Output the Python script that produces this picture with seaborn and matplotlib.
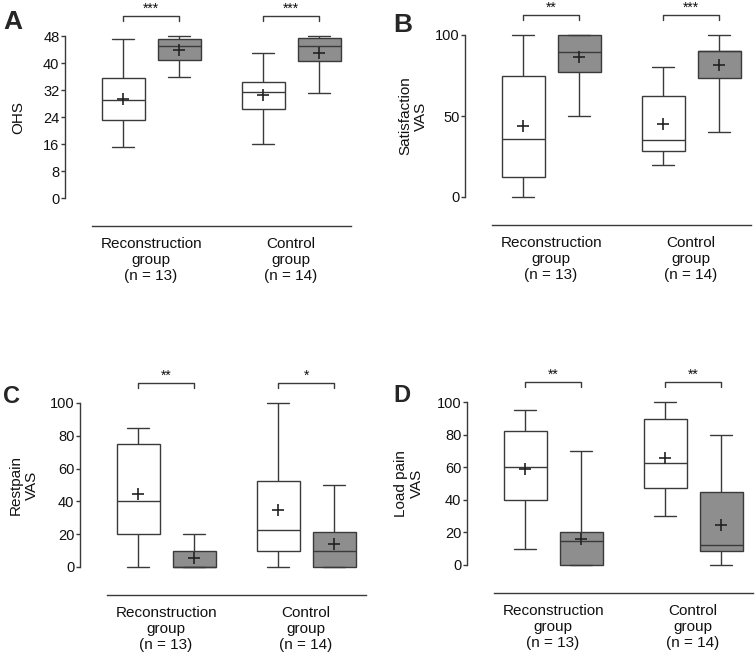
import pandas as pd
import matplotlib
matplotlib.use("Agg")
import matplotlib.pyplot as plt
import seaborn as sns

sns.set_theme(style="ticks")
plt.rcParams["font.family"] = ["Liberation Sans", "DejaVu Sans"]

W, H = 755, 660

groups = ["Reconstruction\ngroup\n(n = 13)", "Control\ngroup\n(n = 14)"]
times = ["Pre", "Post"]

# five-number summaries: min, Q1, median, Q3, max
ohs_recon_pre = [15, 23, 29, 35.5, 47]
ohs_recon_post = [36, 41, 45, 47, 48]
ohs_ctrl_pre = [16, 26.5, 31.5, 34.5, 43]
ohs_ctrl_post = [31, 40.7, 45, 47.3, 48]
ohs_means = [29.2, 44, 30.4, 43]

sat_recon_pre = [0, 12.3, 35.5, 74.7, 100]
sat_recon_post = [50, 77.4, 89.7, 100, 100]
sat_ctrl_pre = [20, 28.5, 35, 62.2, 80]
sat_ctrl_post = [40, 73.3, 90, 90, 100]
sat_means = [43.9, 86.7, 44.8, 81.3]

rest_recon_pre = [0, 20, 40, 75, 85]
rest_recon_post = [0, 0, 0, 10, 20]
rest_ctrl_pre = [0, 10, 22.4, 52.4, 100]
rest_ctrl_post = [0, 0, 10, 21.2, 50]
rest_means = [44.7, 5.3, 34.5, 14.3]

load_recon_pre = [10, 40, 60, 82.5, 95]
load_recon_post = [0, 0, 15, 20, 70]
load_ctrl_pre = [30, 47.5, 62.5, 89.8, 100]
load_ctrl_post = [0, 8.6, 12, 44.8, 80]
load_means = [58.7, 15.9, 65.4, 24.8]

ohs_stars = ["***", "***"]
sat_stars = ["**", "***"]
rest_stars = ["**", "*"]
load_stars = ["**", "**"]

line_col = "#3a3a3a"
box_pal = {"Pre": "white", "Post": "#8e8e8e"}


def long_df(boxes):
    rows = []
    keys = [(g, t) for g in groups for t in times]
    for (g, t), vals in zip(keys, boxes):
        for v in vals:
            rows.append({"group": g, "time": t, "value": v})
    return pd.DataFrame(rows)


def mean_df(means):
    keys = [(g, t) for g in groups for t in times]
    return pd.DataFrame({"group": [k[0] for k in keys],
                         "time": [k[1] for k in keys],
                         "mean": means})


def make_ax(fig, left_px, y0_px, ytop_px, ymax):
    px_per = (y0_px - ytop_px) / ymax
    pad = 0.01 * ymax
    bottom_px = y0_px + pad * px_per
    top_px = ytop_px - pad * px_per
    width_px = (1.5 + 0.615) * 140
    ax = fig.add_axes([left_px / W, 1 - bottom_px / H, width_px / W, (bottom_px - top_px) / H])
    return ax, px_per


def draw(ax, px_per, boxes, means, ylabel, yticks, ymax, stars, label_dx):
    sns.boxplot(data=long_df(boxes), x="group", y="value", hue="time",
                order=groups, hue_order=times, palette=box_pal, saturation=1,
                whis=(0, 100), width=0.8, gap=0.23, linecolor=line_col,
                linewidth=1.0, fliersize=0, legend=False, ax=ax)
    sns.stripplot(data=mean_df(means), x="group", y="mean", hue="time",
                  order=groups, hue_order=times, dodge=True, jitter=False,
                  marker="+", size=9, linewidth=1.2, palette=["#222222", "#222222"],
                  legend=False, ax=ax, zorder=5)

    ax.set_xlim(-0.615, 1.5)
    ax.set_ylim(-0.01 * ymax, 1.01 * ymax)
    ax.set_yticks(yticks)
    sns.despine(ax=ax)
    for s in ["left", "bottom"]:
        ax.spines[s].set_color(line_col)
        ax.spines[s].set_linewidth(1.0)
    ax.spines["left"].set_bounds(0, ymax)
    ax.spines["bottom"].set_position(("outward", 18.7))
    ax.spines["bottom"].set_bounds(-0.425, 1.43)
    ax.tick_params(axis="x", length=0, pad=8, labelsize=11, colors="#111111")
    ax.tick_params(axis="y", length=3, width=1, labelsize=10.5, pad=1,
                   color=line_col, labelcolor="#111111")
    ax.set_xlabel("")
    ax.set_ylabel(ylabel, fontsize=11, va="center", ha="center", color="#111111")
    ax.yaxis.set_label_coords(label_dx / ax.bbox.width, 0.5)

    # significance brackets
    br_y = ymax + 20 / px_per
    tk_y = ymax + 15 / px_per
    for i, s in enumerate(stars):
        x0, x1 = i - 0.2, i + 0.2
        ax.plot([x0, x0, x1, x1], [tk_y, br_y, br_y, tk_y], color=line_col,
                lw=1.0, clip_on=False)
        ax.text(i, br_y, s, ha="center", va="bottom", fontsize=10, color="#111111")


fig = plt.figure(figsize=(W / 100, H / 100), dpi=100)

axA, pA = make_ax(fig, 65, 198, 36, 48)
axB, pB = make_ax(fig, 465, 197, 35, 100)
axC, pC = make_ax(fig, 80, 567, 403, 100)
axD, pD = make_ax(fig, 467, 565, 402, 100)

draw(axA, pA, [ohs_recon_pre, ohs_recon_post, ohs_ctrl_pre, ohs_ctrl_post], ohs_means,
     "OHS", range(0, 49, 8), 48, ohs_stars, 18 - 65)
draw(axB, pB, [sat_recon_pre, sat_recon_post, sat_ctrl_pre, sat_ctrl_post], sat_means,
     "Satisfaction\nVAS", [0, 50, 100], 100, sat_stars, 413 - 465)
draw(axC, pC, [rest_recon_pre, rest_recon_post, rest_ctrl_pre, rest_ctrl_post], rest_means,
     "Restpain\nVAS", range(0, 101, 20), 100, rest_stars, 23.5 - 80)
draw(axD, pD, [load_recon_pre, load_recon_post, load_ctrl_pre, load_ctrl_post], load_means,
     "Load pain\nVAS", range(0, 101, 20), 100, load_stars, 409 - 467)

# panel letters
fig.text(3 / W, 1 - 29 / H, "A", fontsize=19, fontweight="bold", va="baseline")
fig.text(393 / W, 1 - 32 / H, "B", fontsize=19, fontweight="bold", va="baseline")
fig.text(3 / W, 1 - 403 / H, "C", fontsize=17, fontweight="bold", va="baseline")
fig.text(393 / W, 1 - 402 / H, "D", fontsize=17, fontweight="bold", va="baseline")

fig.savefig("out.png", dpi=100)
